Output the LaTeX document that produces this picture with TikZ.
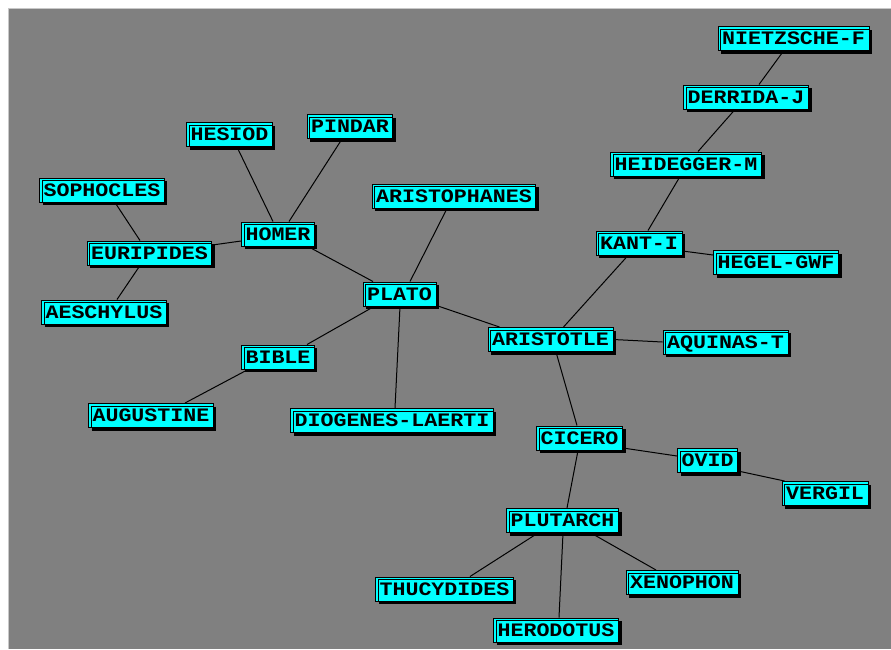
\documentclass[tikz,border=0pt]{standalone}
\usepackage{fontspec}
\usetikzlibrary{shadows}
\newfontfamily\lblfont{Liberation Mono}[FakeStretch=1.14]
\definecolor{panelgray}{HTML}{808080}
\definecolor{panelrim}{HTML}{C8C8C8}
\definecolor{boxcyan}{HTML}{00FFFF}
\pgfdeclarelayer{background}
\pgfsetlayers{background,main}
\tikzset{
  phil/.style={
    draw=black, line width=1pt, fill=boxcyan,
    font=\lblfont\bfseries\fontsize{19}{19}\selectfont,
    inner xsep=4pt, inner ysep=0pt, minimum height=24pt,
    text height=12.5pt, text depth=0pt,
    drop shadow={shadow xshift=3pt, shadow yshift=-3pt, fill=black, opacity=1},
    path picture={
      \draw[black, line width=1pt]
        ([shift={(2.5pt,0pt)}]path picture bounding box.south west)
        -- ([shift={(2.5pt,-2.5pt)}]path picture bounding box.north west)
        -- ([shift={(0pt,-2.5pt)}]path picture bounding box.north east);
    }
  },
  link/.style={draw=black, line width=1pt}
}
\begin{document}
\begin{tikzpicture}[x=1pt, y=-1pt]
\useasboundingbox (0,0) rectangle (891,649);
\begin{pgfonlayer}{background}
  \fill[white] (0,0) rectangle (891,649);
  \fill[panelgray] (8,8) rectangle (891,649);
  \draw[panelrim, line width=1pt] (8,649) -- (8,8) -- (891,8);
\end{pgfonlayer}

% philosophers and authors
\node[phil] (nietzsche)   at (793.5,38.5) {NIETZSCHE-F};
\node[phil] (derrida)     at (746,97)     {DERRIDA-J};
\node[phil] (heidegger)   at (686,164)    {HEIDEGGER-M};
\node[phil] (kant)        at (639,243)    {KANT-I};
\node[phil] (hegel)       at (776,262.5)  {HEGEL-GWF};
\node[phil] (aristotle)   at (550.5,339.5){ARISTOTLE};
\node[phil] (aquinas)     at (725.5,342)  {AQUINAS-T};
\node[phil] (cicero)      at (579.5,438)  {CICERO};
\node[phil] (ovid)        at (707.5,460.5){OVID};
\node[phil] (vergil)      at (825,493.5)  {VERGIL};
\node[phil] (plutarch)    at (562.5,520.5){PLUTARCH};
\node[phil] (thucydides)  at (444.5,589)  {THUCYDIDES};
\node[phil] (xenophon)    at (682,582.5)  {XENOPHON};
\node[phil] (herodotus)   at (556,630)    {HERODOTUS};
\node[phil] (plato)       at (399.5,294)  {PLATO};
\node[phil] (aristophanes)at (454,196)    {ARISTOPHANES};
\node[phil] (diogenes)    at (392,420.5)  {DIOGENES-LAERTI};
\node[phil] (bible)       at (278,357)    {BIBLE};
\node[phil] (augustine)   at (151,415.5)  {AUGUSTINE};
\node[phil] (homer)       at (278,234)    {HOMER};
\node[phil] (hesiod)      at (229.5,134.5){HESIOD};
\node[phil] (pindar)      at (350,126.5)  {PINDAR};
\node[phil] (sophocles)   at (102,190)    {SOPHOCLES};
\node[phil] (euripides)   at (149.5,253)  {EURIPIDES};
\node[phil] (aeschylus)   at (104,312)    {AESCHYLUS};

% influence links
\begin{pgfonlayer}{background}
  \path[link] ([xshift=-10pt]nietzsche.south) -- ([xshift=13pt]derrida.north);
  \path[link] ([xshift=-11pt]derrida.south) -- ([xshift=12pt]heidegger.north);
  \path[link] ([xshift=-6pt]heidegger.south) -- ([xshift=9pt]kant.north);
  \path[link] ([xshift=-11pt]kant.south) -- ([xshift=13pt]aristotle.north);
  \path[link] ([yshift=-8pt]kant.east) -- ([yshift=7.5pt]hegel.west);
  \path[link] (aristotle.east) -- (aquinas.west);
  \path[link] ([yshift=1pt]plato.south east) -- ([xshift=12pt]aristotle.north west);
  \path[link] ([xshift=5.5pt]aristotle.south) -- ([xshift=-2.5pt]cicero.north);
  \path[link] ([yshift=-10pt]cicero.east) -- ([yshift=4.5pt]ovid.west);
  \path[link] ([yshift=-10.5pt]ovid.east) -- ([xshift=3pt]vergil.north west);
  \path[link] ([xshift=-1.5pt]cicero.south) -- ([xshift=4.5pt]plutarch.north);
  \path[link] ([xshift=-24.5pt]plutarch.south) -- ([xshift=25.5pt]thucydides.north);
  \path[link] ([xshift=0.5pt]plutarch.south) -- ([xshift=3pt]herodotus.north);
  \path[link] ([xshift=28.5pt]plutarch.south) -- ([xshift=-26pt]xenophon.north);
  \path[link] ([xshift=30pt]homer.south) -- ([xshift=-26.5pt]plato.north);
  \path[link] ([xshift=10.5pt]plato.north) -- ([xshift=-7pt]aristophanes.south);
  \path[link] ([xshift=-5pt]homer.north) -- ([xshift=7.5pt]hesiod.south);
  \path[link] ([xshift=11pt]homer.north) -- ([xshift=-8pt]pindar.south);
  \path[link] ([yshift=-7pt]homer.west) -- ([yshift=8pt]euripides.east);
  \path[link] ([xshift=-9.5pt]euripides.north) -- ([xshift=13pt]sophocles.south);
  \path[link] ([xshift=-9.5pt]euripides.south) -- ([xshift=13pt]aeschylus.north);
  \path[link] ([xshift=-25.5pt]plato.south) -- ([xshift=29pt]bible.north);
  \path[link] ([xshift=0.5pt]plato.south) -- ([xshift=3pt]diogenes.north);
  \path[link] ([xshift=-30pt]bible.south) -- ([xshift=34pt]augustine.north);
\end{pgfonlayer}
\end{tikzpicture}
\end{document}
